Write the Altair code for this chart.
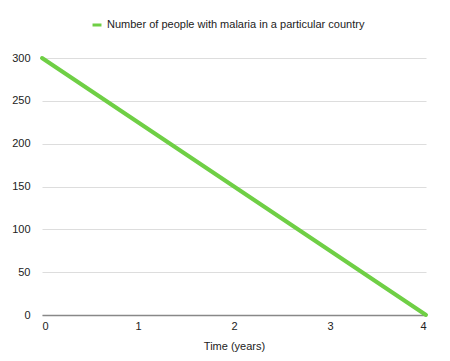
import altair as alt
import pandas as pd

years = [0, 4]
people = [300, 0]
series = ["Number of people with malaria in a particular country"] * 2

df = pd.DataFrame({"t": years, "n": people, "s": series})

font = "Liberation Sans"

chart = alt.Chart(df).mark_line(strokeWidth=4, strokeCap="round").encode(
    x=alt.X("t:Q", title="Time (years)",
            scale=alt.Scale(domain=[0, 4], nice=False, zero=True),
            axis=alt.Axis(values=[0, 1, 2, 3, 4], format="d", grid=False, ticks=False,
                          domain=True, domainColor="#888888", domainWidth=1.5,
                          labelPadding=5, labelFontSize=11, labelColor="#222222",
                          titleFontSize=11, titleFontWeight="normal", titleColor="#222222",
                          titlePadding=9, labelFont=font, titleFont=font)),
    y=alt.Y("n:Q", title=None,
            scale=alt.Scale(domain=[0, 300], nice=False),
            axis=alt.Axis(values=[0, 50, 100, 150, 200, 250, 300], grid=True, gridColor="#dddddd",
                          ticks=False, domain=False, labelPadding=12, labelFontSize=11,
                          labelColor="#222222", labelFont=font)),
    color=alt.Color("s:N", title=None,
                    scale=alt.Scale(range=["#6fcf45"]),
                    legend=alt.Legend(orient="none", legendX=49, legendY=-39, symbolType="stroke",
                                      symbolStrokeWidth=3, symbolSize=80, labelFontSize=11,
                                      labelColor="#222222", labelFont=font, labelLimit=400)),
).properties(
    width=384, height=257,
    autosize=alt.AutoSizeParams(type="none"),
    padding={"left": 34, "top": 50, "right": 16, "bottom": 46},
).configure_view(stroke=None)

chart.save("out.html", embed_options={"renderer": "svg", "actions": False})
